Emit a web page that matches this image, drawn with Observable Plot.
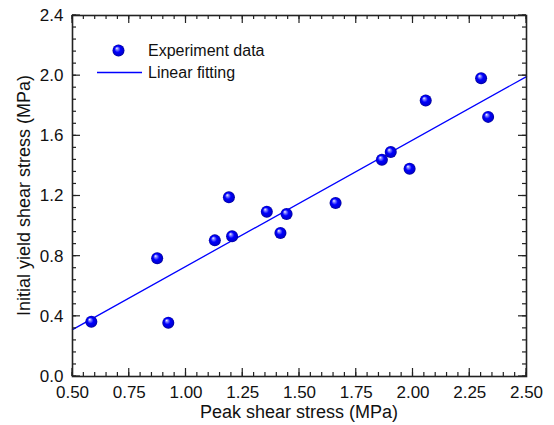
<!DOCTYPE html>
<html>
<head>
<meta charset="utf-8">
<script src="https://cdn.jsdelivr.net/npm/d3@7"></script>
<script src="https://cdn.jsdelivr.net/npm/@observablehq/plot@0.6"></script>
<style>
  html, body { margin: 0; padding: 0; background: #fff; }
  #chart { width: 554px; height: 425px; }
</style>
</head>
<body>
<div id="chart"></div>
<script>
// Experiment data
const peakShear = [0.583, 0.873, 0.922, 1.127, 1.189, 1.203, 1.356, 1.416, 1.443, 1.659, 1.863, 1.902, 1.985, 2.056, 2.300, 2.331];
const yieldShear = [0.364, 0.786, 0.358, 0.905, 1.191, 0.932, 1.096, 0.954, 1.080, 1.153, 1.441, 1.492, 1.381, 1.835, 1.983, 1.726];
// Linear fitting line endpoints
const fitX = [0.5, 2.5];
const fitY = [0.312, 1.994];
// Tick values
const xMajor = [0.5, 0.75, 1.0, 1.25, 1.5, 1.75, 2.0, 2.25, 2.5];
const xMinor = d3.range(0, 41).map(i => 0.5 + i * 0.05);
const yMajor = [0, 0.4, 0.8, 1.2, 1.6, 2.0, 2.4];
const yMinor = d3.range(0, 31).map(i => i * 0.08);
const seriesNames = ["Experiment data", "Linear fitting"];
const xTitle = "Peak shear stress (MPa)";
const yTitle = "Initial yield shear stress (MPa)";

const points = peakShear.map((x, i) => ({x, y: yieldShear[i]}));
const fit = fitX.map((x, i) => ({x, y: fitY[i]}));

const axisColor = "#222";
const font = "'Liberation Sans', Arial, sans-serif";
const W = 554, H = 425, mL = 72, mR = 28, mT = 15, mB = 49;

const svg = Plot.plot({
  width: W,
  height: H,
  marginLeft: mL,
  marginRight: mR,
  marginTop: mT,
  marginBottom: mB,
  style: {fontFamily: font, background: "#fff", color: axisColor},
  x: {domain: [0.5, 2.5], axis: null},
  y: {domain: [0, 2.4], axis: null},
  marks: [
    Plot.axisX({ticks: xMajor, anchor: "bottom", tickSize: 0, tickPadding: 9, tickFormat: d3.format(".2f"), label: null, fontSize: 17, fill: "#111"}),
    Plot.axisY({ticks: yMajor, anchor: "left", tickSize: 0, tickPadding: 9, tickFormat: d3.format(".1f"), label: null, fontSize: 17, fill: "#111"}),
    Plot.line(fit, {x: "x", y: "y", stroke: "#0000ff", strokeWidth: 1.3}),
    Plot.dot(points, {x: "x", y: "y", r: 6, fill: "url(#ball)", stroke: "none"}),
    Plot.frame({stroke: axisColor, strokeWidth: 1.6})
  ]
});

const root = d3.select(svg);
const defs = root.insert("defs", ":first-child");
const grad = defs.append("radialGradient")
  .attr("id", "ball")
  .attr("cx", "50%").attr("cy", "50%").attr("r", "50%")
  .attr("fx", "35%").attr("fy", "30%");
[[0, "#ffffff"], [0.18, "#8f8fff"], [0.5, "#0000ff"], [0.88, "#0000cc"], [1, "#00008a"]]
  .forEach(([o, c]) => grad.append("stop").attr("offset", o).attr("stop-color", c));

// Inward ticks on all four sides, positioned with Plot's own scales
const sx = svg.scale("x"), sy = svg.scale("y");
const pTop = mT, pBottom = H - mB, pLeft = mL, pRight = W - mR;
const tg = root.append("g").attr("stroke", axisColor).attr("stroke-width", 1.2).attr("fill", "none");
function xTicks(vals, len) {
  vals.forEach(v => {
    const px = sx.apply(v);
    tg.append("line").attr("x1", px).attr("x2", px).attr("y1", pBottom).attr("y2", pBottom - len);
    tg.append("line").attr("x1", px).attr("x2", px).attr("y1", pTop).attr("y2", pTop + len);
  });
}
function yTicks(vals, len) {
  vals.forEach(v => {
    const py = sy.apply(v);
    tg.append("line").attr("y1", py).attr("y2", py).attr("x1", pLeft).attr("x2", pLeft + len);
    tg.append("line").attr("y1", py).attr("y2", py).attr("x1", pRight).attr("x2", pRight - len);
  });
}
xTicks(xMinor, 4);
xTicks(xMajor, 8);
yTicks(yMinor, 4);
yTicks(yMajor, 8);

// Axis titles
root.append("text")
  .attr("x", (pLeft + pRight) / 2).attr("y", 418)
  .attr("text-anchor", "middle")
  .attr("font-size", 18).attr("font-family", font).attr("fill", "#111")
  .text(xTitle);
root.append("text")
  .attr("transform", `translate(30,${(pTop + pBottom) / 2}) rotate(-90)`)
  .attr("text-anchor", "middle")
  .attr("font-size", 18).attr("font-family", font).attr("fill", "#111")
  .text(yTitle);

// Legend
const lg = root.append("g").attr("font-family", font).attr("font-size", 16).attr("fill", "#111").attr("text-anchor", "start");
lg.append("circle").attr("cx", 118.5).attr("cy", 50.5).attr("r", 6).attr("fill", "url(#ball)");
lg.append("text").attr("x", 148).attr("y", 50.5).attr("dy", "0.35em").attr("text-anchor", "start").text(seriesNames[0]);
lg.append("line").attr("x1", 97).attr("x2", 142).attr("y1", 72.5).attr("y2", 72.5)
  .attr("stroke", "#0000ff").attr("stroke-width", 1.3);
lg.append("text").attr("x", 148).attr("y", 72.5).attr("dy", "0.35em").attr("text-anchor", "start").text(seriesNames[1]);

document.getElementById("chart").appendChild(svg);
</script>
</body>
</html>
